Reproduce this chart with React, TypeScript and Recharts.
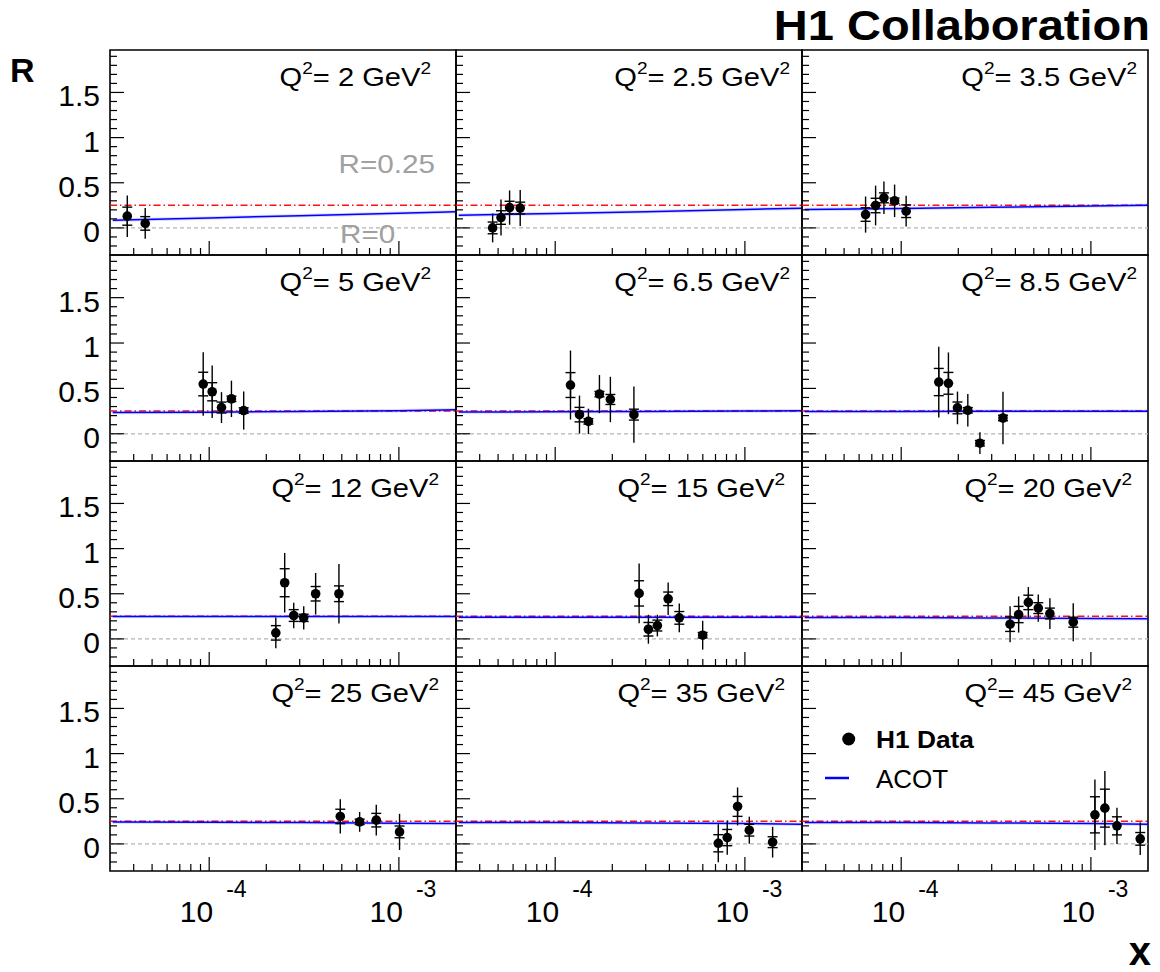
import React from "react";
import {
  ComposedChart,
  ErrorBar,
  Line,
  ReferenceArea,
  ReferenceLine,
  Scatter,
  XAxis,
  YAxis,
} from "recharts";

// ---- data: [x, R, stat error, total error] ----
const h1Q2_2 = [[3.7e-5, 0.13, 0.1, 0.23], [4.6e-5, 0.05, 0.075, 0.17]];
const h1Q2_2p5 = [[4.68e-5, 0.0, 0.065, 0.16], [5.18e-5, 0.115, 0.075, 0.2], [5.75e-5, 0.225, 0.07, 0.19], [6.54e-5, 0.22, 0.065, 0.2]];
const h1Q2_3p5 = [[6.49e-5, 0.148, 0.075, 0.2], [7.33e-5, 0.248, 0.08, 0.22], [8.11e-5, 0.333, 0.055, 0.18], [9.23e-5, 0.3, 0.03, 0.18], [1.062e-4, 0.185, 0.07, 0.17]];
const h1Q2_5 = [[9.3e-5, 0.548, 0.13, 0.35], [1.037e-4, 0.463, 0.1, 0.29], [1.161e-4, 0.289, 0.06, 0.17], [1.31e-4, 0.385, 0.03, 0.2], [1.52e-4, 0.256, 0.03, 0.21]];
const h1Q2_6p5 = [[1.204e-4, 0.537, 0.137, 0.38], [1.343e-4, 0.211, 0.08, 0.21], [1.497e-4, 0.137, 0.03, 0.14], [1.711e-4, 0.437, 0.03, 0.21], [1.954e-4, 0.378, 0.055, 0.25], [2.6e-4, 0.211, 0.06, 0.31]];
const h1Q2_8p5 = [[1.578e-4, 0.57, 0.15, 0.39], [1.774e-4, 0.556, 0.12, 0.34], [1.98e-4, 0.285, 0.065, 0.18], [2.245e-4, 0.259, 0.03, 0.18], [2.6e-4, -0.104, 0.03, 0.12], [3.44e-4, 0.174, 0.03, 0.29]];
const h1Q2_12 = [[2.245e-4, 0.067, 0.08, 0.17], [2.5e-4, 0.622, 0.155, 0.33], [2.79e-4, 0.259, 0.065, 0.14], [3.15e-4, 0.233, 0.04, 0.13], [3.64e-4, 0.5, 0.08, 0.23], [4.83e-4, 0.5, 0.087, 0.33]];
const h1Q2_15 = [[2.77e-4, 0.504, 0.14, 0.33], [3.1e-4, 0.107, 0.075, 0.16], [3.456e-4, 0.148, 0.06, 0.12], [3.94e-4, 0.444, 0.075, 0.18], [4.51e-4, 0.233, 0.07, 0.16], [5.99e-4, 0.041, 0.03, 0.16]];
const h1Q2_20 = [[3.75e-4, 0.163, 0.08, 0.2], [4.16e-4, 0.27, 0.09, 0.2], [4.68e-4, 0.404, 0.08, 0.17], [5.28e-4, 0.341, 0.06, 0.15], [6.08e-4, 0.281, 0.06, 0.17], [8.07e-4, 0.185, 0.055, 0.21]];
const h1Q2_25 = [[4.91e-4, 0.304, 0.08, 0.19], [6.21e-4, 0.244, 0.03, 0.11], [7.6e-4, 0.263, 0.075, 0.17], [1.008e-3, 0.133, 0.065, 0.2]];
const h1Q2_35 = [[7.24e-4, 0.007, 0.095, 0.21], [8.07e-4, 0.07, 0.09, 0.19], [9.15e-4, 0.415, 0.11, 0.21], [1.055e-3, 0.152, 0.065, 0.15], [1.4e-3, 0.019, 0.06, 0.17]];
const h1Q2_45 = [[1.05e-3, 0.322, 0.2, 0.39], [1.185e-3, 0.396, 0.21, 0.41], [1.372e-3, 0.2, 0.1, 0.2], [1.82e-3, 0.056, 0.07, 0.18]];

// ACOT prediction, sampled at these x values
const acotX = [3.1e-5, 1e-4, 3e-4, 1e-3, 2e-3];
const acotQ2_2 = [0.085, 0.11, 0.135, 0.162, 0.178];
const acotQ2_2p5 = [0.14, 0.16, 0.18, 0.205, 0.218];
const acotQ2_3p5 = [0.205, 0.215, 0.228, 0.242, 0.252];
const acotQ2_5 = [0.235, 0.238, 0.245, 0.255, 0.265];
const acotQ2_6p5 = [0.24, 0.242, 0.245, 0.25, 0.255];
const acotQ2_8p5 = [0.245, 0.246, 0.247, 0.248, 0.248];
const acotQ2_12 = [0.248, 0.248, 0.248, 0.248, 0.248];
const acotQ2_15 = [0.24, 0.24, 0.24, 0.24, 0.24];
const acotQ2_20 = [0.238, 0.236, 0.232, 0.226, 0.222];
const acotQ2_25 = [0.242, 0.24, 0.236, 0.229, 0.225];
const acotQ2_35 = [0.238, 0.236, 0.232, 0.225, 0.218];
const acotQ2_45 = [0.238, 0.236, 0.232, 0.225, 0.218];

const q2Labels = ["2", "2.5", "3.5", "5", "6.5", "8.5", "12", "15", "20", "25", "35", "45"];
const h1Sets = [h1Q2_2, h1Q2_2p5, h1Q2_3p5, h1Q2_5, h1Q2_6p5, h1Q2_8p5, h1Q2_12, h1Q2_15, h1Q2_20, h1Q2_25, h1Q2_35, h1Q2_45];
const acotSets = [acotQ2_2, acotQ2_2p5, acotQ2_3p5, acotQ2_5, acotQ2_6p5, acotQ2_8p5, acotQ2_12, acotQ2_15, acotQ2_20, acotQ2_25, acotQ2_35, acotQ2_45];

const xTicks = [4e-5, 5e-5, 6e-5, 7e-5, 8e-5, 9e-5, 1e-4, 2e-4, 3e-4, 4e-4, 5e-4, 6e-4, 7e-4, 8e-4, 9e-4, 1e-3];
const rTicks = [-0.2, -0.1, 0, 0.1, 0.2, 0.3, 0.4, 0.5, 0.6, 0.7, 0.8, 0.9, 1, 1.1, 1.2, 1.3, 1.4, 1.5, 1.6, 1.7, 1.8, 1.9];
const rLabels = [0, 0.5, 1, 1.5];

// ---- layout ----
const W = 1160;
const H = 972;
const X0 = 110;
const COL_W = 346;
const Y0 = 50;
const ROW_H = 205.25;
const X_DOMAIN = [3e-5, 2e-3];
const R_DOMAIN = [-0.3, 1.97];
const FONT = "'Liberation Sans', Arial, Helvetica, sans-serif";
// right edge of the Q2 label in each panel
const labelInset = [25, 12, 11, 25, 12, 11, 17, 17, 16, 17, 17, 16];
const TEX_STRETCH = 1.12;

const isDecade = (v: number) => Math.abs(Math.log10(v) - Math.round(Math.log10(v))) < 1e-6;

function XTick(props: any) {
  const { x, y, payload, showLabel } = props;
  const v = payload.value;
  const major = isDecade(v);
  const exp = Math.round(Math.log10(v));
  return (
    <g>
      <line x1={x} x2={x} y1={y} y2={y - (major ? 14 : 7)} stroke="#000" strokeWidth={1.2} />
      {showLabel && major && (
        <g fontFamily={FONT} fill="#000">
          <text x={x + 4} y={y + 51} fontSize={30} textAnchor="end">10</text>
          <text x={x + 17} y={y + 26} fontSize={23}>{String(exp)}</text>
        </g>
      )}
    </g>
  );
}

function YTick(props: any) {
  const { x, y, payload, showLabel } = props;
  const v = payload.value;
  const major = rLabels.some((m) => Math.abs(m - v) < 1e-6);
  return (
    <g>
      <line x1={x} x2={x + (major ? 14 : 7)} y1={y} y2={y} stroke="#000" strokeWidth={1.2} />
      {showLabel && major && (
        <text x={x - 10} y={y + 14} fontSize={30} fontFamily={FONT} textAnchor="end" fill="#000">
          {String(v)}
        </text>
      )}
    </g>
  );
}

const Dot = (p: any) => <circle cx={p.cx} cy={p.cy} r={4.8} fill="#000" />;

function Panel({ idx }: { idx: number }) {
  const col = idx % 3;
  const row = Math.floor(idx / 3);
  const left = X0 + col * COL_W;
  const top = Math.round(Y0 + row * ROW_H);
  const bottom = Math.round(Y0 + (row + 1) * ROW_H);
  const pts = h1Sets[idx].map(([x, r, stat, tot]) => ({ x, r, stat, tot }));
  const acot = acotX.map((x, i) => ({ x, r: acotSets[idx][i] }));
  // axes take 1px each (a zero-size axis is not drawn), so margins give it back
  return (
    <div style={{ position: "absolute", left: 0, top: 0 }}>
      <ComposedChart
        width={W}
        height={H}
        margin={{ left: left - 1, top, right: W - left - COL_W, bottom: H - bottom - 1 }}
      >
        <XAxis
          type="number"
          dataKey="x"
          scale="log"
          domain={X_DOMAIN}
          allowDataOverflow
          ticks={xTicks}
          interval={0}
          height={1}
          tickSize={0}
          tickMargin={0}
          axisLine={false}
          tickLine={false}
          tick={(p: any) => <XTick {...p} showLabel={row === 3} />}
        />
        <YAxis
          type="number"
          dataKey="r"
          domain={R_DOMAIN}
          allowDataOverflow
          ticks={rTicks}
          interval={0}
          width={1}
          tickSize={0}
          tickMargin={0}
          axisLine={false}
          tickLine={false}
          tick={(p: any) => <YTick {...p} showLabel={col === 0} />}
        />
        <ReferenceLine y={0} stroke="#b4b4b4" strokeWidth={1.2} strokeDasharray="4 3" />
        <ReferenceLine y={0.25} stroke="#ff1010" strokeWidth={1.5} strokeDasharray="7 3 1.5 3" />
        <Line
          data={acot}
          dataKey="r"
          stroke="#0000ff"
          strokeOpacity={0.15}
          strokeWidth={3.5}
          dot={false}
          isAnimationActive={false}
        />
        <Line
          data={acot}
          dataKey="r"
          stroke="#0000ff"
          strokeWidth={1.5}
          dot={false}
          isAnimationActive={false}
        />
        <Scatter data={pts} dataKey="r" shape={Dot} isAnimationActive={false}>
          <ErrorBar dataKey="tot" direction="y" width={0} stroke="#000" strokeWidth={1.4} isAnimationActive={false} />
          <ErrorBar dataKey="stat" direction="y" width={5} stroke="#000" strokeWidth={1.4} isAnimationActive={false} />
        </Scatter>
        <ReferenceArea
          x1={X_DOMAIN[0]}
          x2={X_DOMAIN[1]}
          y1={R_DOMAIN[0]}
          y2={R_DOMAIN[1]}
          fill="none"
          stroke="#000"
          strokeWidth={1.6}
        />
      </ComposedChart>
    </div>
  );
}

// text drawn by the original with a slightly wide font
function Tex({ x, y, anchor = "start", children, ...rest }: any) {
  return (
    <g transform={`translate(${x},${y}) scale(${TEX_STRETCH},1)`}>
      <text x={0} y={0} textAnchor={anchor} {...rest}>
        {children}
      </text>
    </g>
  );
}

function Annotations() {
  return (
    <svg
      width={W}
      height={H}
      style={{ position: "absolute", left: 0, top: 0, pointerEvents: "none" }}
      fontFamily={FONT}
    >
      <Tex x={1150} y={40} anchor="end" fontSize={42} fontWeight="bold">H1 Collaboration</Tex>
      <text x={10} y={82} fontSize={34} fontWeight="bold">R</text>
      <text x={1151} y={965} fontSize={40} fontWeight="bold" textAnchor="end">x</text>
      {q2Labels.map((q, i) => {
        const col = i % 3;
        const row = Math.floor(i / 3);
        const right = X0 + (col + 1) * COL_W - labelInset[i];
        const base = Math.round(Y0 + row * ROW_H) + 35.5;
        return (
          <Tex key={q} x={right} y={base} anchor="end" fontSize={26}>
            Q<tspan dy={-12} fontSize={17}>2</tspan>
            <tspan dy={12} fontSize={26}>{`= ${q} GeV`}</tspan>
            <tspan dy={-12} fontSize={17}>2</tspan>
          </Tex>
        );
      })}
      <Tex x={435} y={173} anchor="end" fontSize={26.5} fill="#a0a0a0">R=0.25</Tex>
      <Tex x={340} y={243} fontSize={26.5} fill="#a0a0a0">R=0</Tex>
      <circle cx={848.7} cy={739} r={6.5} fill="#000" />
      <Tex x={876} y={748} fontSize={23.5} fontWeight="bold">H1 Data</Tex>
      <line x1={825} x2={849} y1={778} y2={778} stroke="#0000ff" strokeWidth={2.5} />
      <text x={876} y={788} fontSize={26}>ACOT</text>
    </svg>
  );
}

export default function App() {
  return (
    <div
      style={{
        position: "absolute",
        left: 0,
        top: 0,
        width: W,
        height: H,
        background: "#fff",
        fontFamily: FONT,
      }}
    >
      {q2Labels.map((q, i) => (
        <Panel key={q} idx={i} />
      ))}
      <Annotations />
    </div>
  );
}
